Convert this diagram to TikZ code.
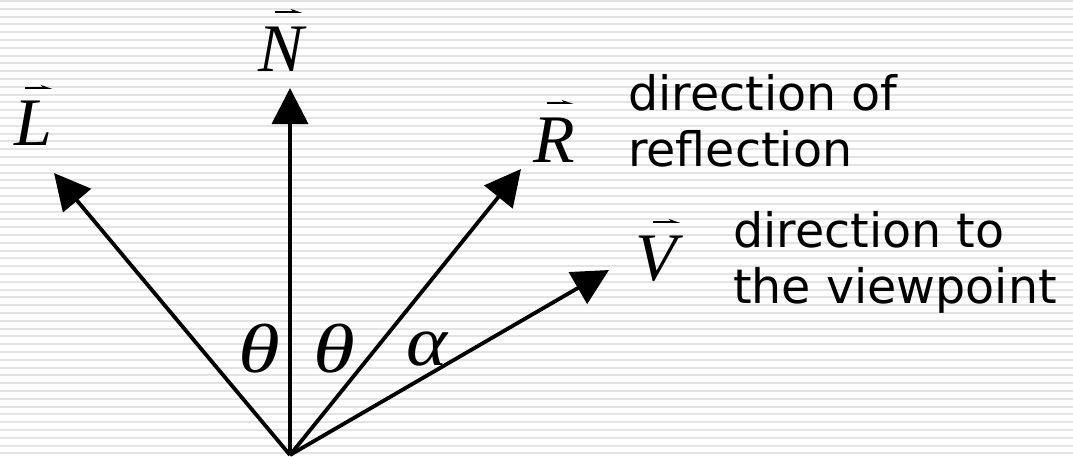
\documentclass[tikz,border=0pt]{standalone}
\usepackage{fontspec}
\usepackage{graphicx}
\setmainfont{Liberation Serif}
\newfontfamily\labelsans{DejaVu Sans}
\usetikzlibrary{arrows.meta}
\tikzset{
  stripe/.style={line width=2pt, draw=black!11},
  vecarrow/.style={line width=3.8pt, -{Triangle[length=36pt,width=36pt]}},
  vecacc/.style={line width=1.8pt, -{Stealth[harpoon,length=9pt,width=6pt]}},
  letter/.style={inner sep=0pt, anchor=base, font=\fontsize{68}{68}\selectfont\itshape},
  note/.style={inner sep=0pt, anchor=north west, align=left, font=\labelsans\fontsize{47.5}{56}\selectfont}
}
\begin{document}
\begin{tikzpicture}[x=1pt,y=-1pt]
\useasboundingbox (0,0) rectangle (1073,456);
\fill[white] (0,0) rectangle (1073,456);
\foreach \i in {0,...,58} {
  \draw[stripe] (0,{1+7.8*\i}) -- (1073,{1+7.8*\i});
}
% origin and arrow tips
\coordinate (O) at (290,455);
\coordinate (Ntip) at (290,88);
\coordinate (Ltip) at (54,173);
\coordinate (Rtip) at (521,169);
\coordinate (Vtip) at (609,270);
\draw[vecarrow] (O) -- (Ntip);
\draw[vecarrow] (O) -- (Ltip);
\draw[vecarrow] (O) -- (Rtip);
\draw[vecarrow] (O) -- (Vtip);
% letters
\node[letter] (N) at (281,71) {N};
\node[letter] (L) at (33,145) {L};
\node[letter] (R) at (554,162) {R};
\node[letter] (V) at (656,280) {V};
\draw[vecacc] ([shift={(-6,-59)}]N.base) -- ++(27,0);
\draw[vecacc] ([shift={(-8,-57)}]L.base) -- ++(27,0);
\draw[vecacc] ([shift={(-7,-59)}]R.base) -- ++(26,0);
\draw[vecacc] ([shift={(-3,-58)}]V.base) -- ++(27,0);
% angles
\node[letter] (th1) at (259,372) {\scalebox{1.25}[1.02]{θ}};
\node[letter] (th2) at (334,372) {\scalebox{1.25}[1.02]{θ}};
\node[letter] (al) at (427,365) {\scalebox{1.15}[1.05]{α}};
% notes
\node[note] (refl) at (628,74) {direction of\\reflection};
\node[note] (view) at (733,211) {direction to\\the viewpoint};
\end{tikzpicture}
\end{document}
